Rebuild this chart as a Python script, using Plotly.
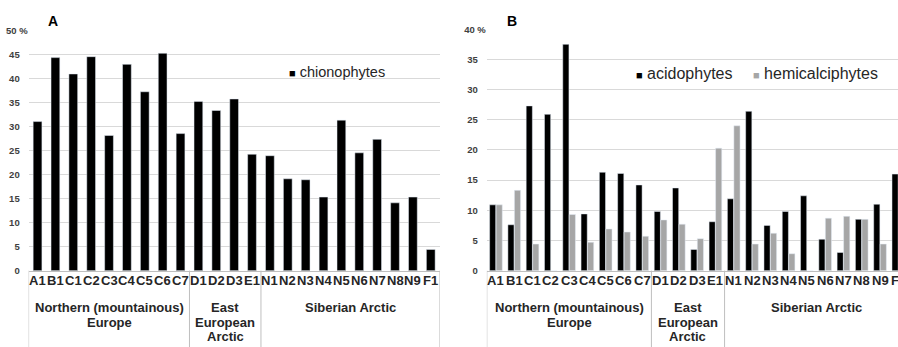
import plotly.graph_objects as go

# ---------------- data ----------------
categories = ["A1", "B1", "C1", "C2", "C3", "C4", "C5", "C6", "C7",
              "D1", "D2", "D3", "E1",
              "N1", "N2", "N3", "N4", "N5", "N6", "N7", "N8", "N9", "F1"]
group_labels = [["Northern (mountainous)", "Europe"],
                ["East", "European", "Arctic"],
                ["Siberian Arctic"]]
group_sizes = [9, 4, 10]

chionophytes = [31.0, 44.3, 40.9, 44.5, 28.1, 42.9, 37.2, 45.2, 28.5,
                35.2, 33.3, 35.7, 24.2,
                23.9, 19.1, 18.9, 15.3, 31.3, 24.5, 27.3, 14.1, 15.3, 4.4]
acidophytes = [10.9, 7.6, 27.3, 25.9, 37.5, 9.4, 16.3, 16.1, 14.2,
               9.8, 13.7, 3.5, 8.1,
               11.9, 26.4, 7.5, 9.8, 12.4, 5.2, 3.0, 8.5, 11.0, 16.0]
hemicalciphytes = [10.9, 13.3, 4.4, 0, 9.3, 4.7, 6.9, 6.4, 5.7,
                   8.4, 7.7, 5.3, 20.3,
                   24.0, 4.4, 6.2, 2.8, 0, 8.7, 9.0, 8.5, 4.4, None]

yticks_a = [0, 5, 10, 15, 20, 25, 30, 35, 40, 45, 50]
yticks_b = [0, 5, 10, 15, 20, 25, 30, 35, 40]

# ---------------- layout constants ----------------
W, H = 898, 347
FONT = "Liberation Sans, Arial, sans-serif"
TXT = "#262626"
GRID = "#d9d9d9"
AXL = "#bfbfbf"

y_bottom = (H - 273.3) / H
dom_a = [28.6 / W, 439.7 / W]
dom_b = [486.8 / W, 1.0]
range_a = [-0.5, len(categories) - 0.5]
range_b = [-0.5, -0.5 + (W - 486.8) / 18.29]


def ticktext(vals):
    top = vals[-1]
    return [f"{v} %" if v == top else f"{v}\u00a0\u00a0\u00a0" for v in vals]


fig = go.Figure()
fig.add_trace(go.Bar(x=categories, y=chionophytes, name="chionophytes",
                     marker_color="#000000", width=0.49,
                     xaxis="x", yaxis="y", showlegend=False))
fig.add_trace(go.Bar(x=categories, y=acidophytes, name="acidophytes",
                     marker_color="#000000",
                     xaxis="x2", yaxis="y2", showlegend=False))
fig.add_trace(go.Bar(x=categories, y=hemicalciphytes, name="hemicalciphytes",
                     marker_color="#a6a6a6",
                     xaxis="x2", yaxis="y2", showlegend=False))

common_x = dict(type="category", showticklabels=False, showgrid=False,
                showline=True, linecolor=AXL, linewidth=1, ticks="",
                zeroline=False, fixedrange=True)
common_y = dict(showgrid=True, gridcolor=GRID, gridwidth=1, zeroline=False,
                showline=False, ticks="",
                tickfont=dict(family=FONT, size=9.5, color="#404040", weight="bold"))

fig.update_layout(
    width=W, height=H,
    margin=dict(l=0, r=0, t=0, b=0),
    paper_bgcolor="white", plot_bgcolor="white",
    barmode="group", bargap=0.29, bargroupgap=0.05,
    xaxis=dict(domain=dom_a, range=range_a, anchor="y", **common_x),
    yaxis=dict(domain=[y_bottom, (H - 25) / H], range=[0, 50], anchor="x",
               tickvals=yticks_a, ticktext=ticktext(yticks_a), **common_y),
    xaxis2=dict(domain=dom_b, range=range_b, anchor="y2", **common_x),
    yaxis2=dict(domain=[y_bottom, (H - 24) / H], range=[0, 40], anchor="x2",
                tickvals=yticks_b, ticktext=ticktext(yticks_b), **common_y),
)

annotations = []
shapes = []
label_y = (H - 283.3) / H
group_line_y = [311.2, 326.4, 341.6]

for xref, dom, rng in (("x", dom_a, range_a), ("x2", dom_b, range_b)):
    # category labels (the last one of panel B lies past the right edge)
    for i, cat in enumerate(categories):
        f = (i - rng[0]) / (rng[1] - rng[0])
        if 0 <= f <= 1:
            ax_x, ax_ref = cat, xref
        else:
            ax_x, ax_ref = dom[0] + f * (dom[1] - dom[0]), "paper"
        annotations.append(dict(x=ax_x, xref=ax_ref, y=label_y, yref="paper",
                                text=cat, showarrow=False, xanchor="center",
                                yanchor="middle",
                                font=dict(family=FONT, size=13, color=TXT,
                                          weight="bold")))
    # group labels and divider lines
    start = 0
    bounds = [-0.5]
    for lines, size in zip(group_labels, group_sizes):
        centre = start + (size - 1) / 2
        for k, line in enumerate(lines):
            annotations.append(dict(x=centre, xref=xref,
                                    y=(H - group_line_y[k]) / H, yref="paper",
                                    text=line, showarrow=False,
                                    xanchor="center", yanchor="middle",
                                    font=dict(family=FONT, size=13, color=TXT,
                                              weight="bold")))
        start += size
        bounds.append(start - 0.5)
    for b in bounds:
        shapes.append(dict(type="line", xref=xref, yref="paper",
                           x0=b, x1=b, y0=-0.05, y1=y_bottom,
                           line=dict(color=AXL, width=1), layer="above"))

# panel letters
annotations.append(dict(x=45.5 / W, y=(H - 16) / H, xref="paper", yref="paper",
                        text="A", showarrow=False, xanchor="left", yanchor="middle",
                        font=dict(family=FONT, size=14, color="#000", weight="bold")))
annotations.append(dict(x=504.5 / W, y=(H - 16) / H, xref="paper", yref="paper",
                        text="B", showarrow=False, xanchor="left", yanchor="middle",
                        font=dict(family=FONT, size=14, color="#000", weight="bold")))


def legend_item(x_px, y_px, color, name, size):
    return dict(x=x_px / W, y=(H - y_px) / H, xref="paper", yref="paper",
                text=f'<span style="color:{color};font-size:11px">\u25a0</span> {name}',
                showarrow=False, xanchor="left", yanchor="middle",
                font=dict(family=FONT, size=size, color=TXT))


annotations.append(legend_item(287, 67.7, "#000000", "chionophytes", 14.5))
annotations.append(legend_item(634, 70, "#000000", "acidophytes", 16))
annotations.append(legend_item(750.5, 70, "#a6a6a6", "hemicalciphytes", 16))

fig.update_layout(annotations=annotations, shapes=shapes)

fig.write_html("out.html")
